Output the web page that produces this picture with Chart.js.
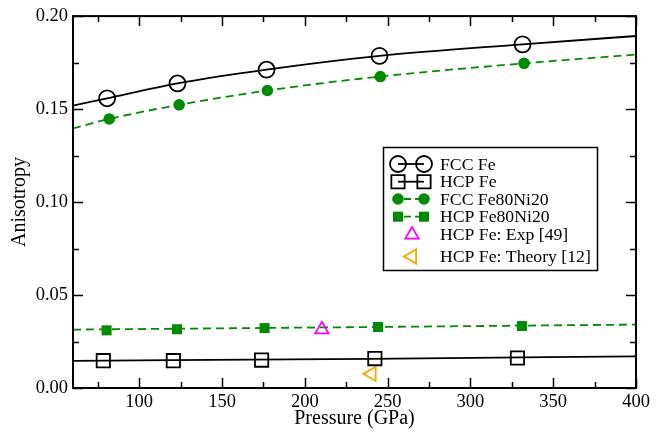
<!DOCTYPE html>
<html><head><meta charset="utf-8">
<script src="https://cdn.jsdelivr.net/npm/chart.js@4/dist/chart.umd.min.js"></script>
<style>html,body{margin:0;padding:0;background:#fff}</style>
</head><body>
<canvas id="c" width="665" height="433"></canvas>
<script>
// ---- data ----
const fccFePressure = [80.6, 123.1, 176.9, 245.1, 331.5];
const fccFeAniso    = [0.1558, 0.1638, 0.1712, 0.1786, 0.1848];
const fccFeFitP     = [60, 80.6, 123.1, 176.9, 245.1, 331.5, 400];
const fccFeFitA     = [0.1518, 0.1558, 0.1638, 0.1712, 0.1786, 0.1848, 0.1893];

const hcpFePressure = [78.3, 120.6, 173.9, 242.3, 328.4];
const hcpFeAniso    = [0.0147, 0.0147, 0.0150, 0.0158, 0.0161];
const hcpFeFitP     = [60, 240, 400];
const hcpFeFitA     = [0.0146, 0.0157, 0.0170];

const fccNiPressure = [81.9, 124.1, 177.4, 245.6, 332.4];
const fccNiAniso    = [0.1447, 0.1523, 0.1600, 0.1675, 0.1746];
const fccNiFitP     = [60, 81.9, 124.1, 177.4, 245.6, 332.4, 400];
const fccNiFitA     = [0.1396, 0.1447, 0.1523, 0.1600, 0.1675, 0.1746, 0.1793];

const hcpNiPressure = [80.3, 122.8, 175.7, 244.2, 331.1];
const hcpNiAniso    = [0.0310, 0.0316, 0.0322, 0.0328, 0.0333];
const hcpNiFitP     = [60, 240, 400];
const hcpNiFitA     = [0.0314, 0.0328, 0.0341];

const expPressure    = [210.3];
const expAniso       = [0.0315];
const theoryPressure = [240.3];
const theoryAniso    = [0.0076];

const seriesLabels = ['FCC Fe', 'HCP Fe', 'FCC Fe80Ni20', 'HCP Fe80Ni20', 'HCP Fe: Exp [49]', 'HCP Fe: Theory [12]'];

const xMajorTicks = [100, 150, 200, 250, 300, 350, 400];
const xMinorTicks = [75, 125, 175, 225, 275, 325, 375];
const yMajorTicks = [0, 0.05, 0.10, 0.15, 0.20];
const yMinorTicks = [0.025, 0.075, 0.125, 0.175];

// ---- styles ----
const GREEN = '#008b00';
const FONT = "'Liberation Serif', 'Times New Roman', serif";
function pts(xs, ys) { return xs.map((x, i) => ({x: x, y: ys[i]})); }

const lineDs = (label, xs, ys, color, dash) => ({
  label: label, data: pts(xs, ys), showLine: true, pointRadius: 0, pointHoverRadius: 0,
  borderColor: color, borderWidth: 1.8, borderDash: dash, cubicInterpolationMode: 'monotone',
  fill: false, order: 2
});
const markDs = (label, xs, ys, style, radius, border, fill, bw, rot) => ({
  label: label, data: pts(xs, ys), showLine: false, pointStyle: style, pointRadius: radius,
  pointHoverRadius: radius, pointBorderColor: border, pointBackgroundColor: fill,
  pointBorderWidth: bw, pointRotation: rot || 0, order: 1
});

const datasets = [
  lineDs(seriesLabels[0], fccFeFitP, fccFeFitA, '#000', []),                       //0
  markDs(seriesLabels[0], fccFePressure, fccFeAniso, 'circle', 8, '#000', 'rgba(0,0,0,0)', 1.8), //1
  lineDs(seriesLabels[1], hcpFeFitP, hcpFeFitA, '#000', []),                       //2
  markDs(seriesLabels[1], hcpFePressure, hcpFeAniso, 'rect', 9.4, '#000', 'rgba(0,0,0,0)', 1.8), //3
  lineDs(seriesLabels[2], fccNiFitP, fccNiFitA, GREEN, [8, 5]),                    //4
  markDs(seriesLabels[2], fccNiPressure, fccNiAniso, 'circle', 5.8, GREEN, GREEN, 0), //5
  lineDs(seriesLabels[3], hcpNiFitP, hcpNiFitA, GREEN, [8, 5]),                    //6
  markDs(seriesLabels[3], hcpNiPressure, hcpNiAniso, 'rect', 7.1, GREEN, GREEN, 0),  //7
  markDs(seriesLabels[4], expPressure, expAniso, 'triangle', 7.7, '#ff00ff', 'rgba(0,0,0,0)', 1.8), //8
  markDs(seriesLabels[5], theoryPressure, theoryAniso, 'triangle', 8.2, '#ffa500', 'rgba(0,0,0,0)', 1.8, -90) //9
];
const legendRows = [
  {line: 0, mark: 1}, {line: 2, mark: 3}, {line: 4, mark: 5}, {line: 6, mark: 7},
  {line: null, mark: 8}, {line: null, mark: 9}
];

const framePlugin = {
  id: 'frame',
  afterDatasetsDraw(chart) {
    const {ctx, chartArea: a, scales: {x, y}} = chart;
    ctx.save();
    ctx.strokeStyle = '#000';
    ctx.lineWidth = 1.5;
    ctx.beginPath();
    const tx = (v, len) => { const p = Math.round(x.getPixelForValue(v)) + 0.5;
      ctx.moveTo(p, a.bottom); ctx.lineTo(p, a.bottom - len);
      ctx.moveTo(p, a.top); ctx.lineTo(p, a.top + len); };
    const ty = (v, len) => { const p = Math.round(y.getPixelForValue(v)) + 0.5;
      ctx.moveTo(a.left, p); ctx.lineTo(a.left + len, p);
      ctx.moveTo(a.right, p); ctx.lineTo(a.right - len, p); };
    xMajorTicks.forEach(v => tx(v, 10));
    xMinorTicks.forEach(v => tx(v, 6));
    yMajorTicks.forEach(v => ty(v, 10));
    yMinorTicks.forEach(v => ty(v, 6));
    ctx.stroke();
    ctx.lineWidth = 2;
    ctx.strokeRect(a.left, a.top, a.right - a.left, a.bottom - a.top);
    ctx.restore();
  }
};

function drawMarker(ctx, ds, px, py) {
  const r = ds.pointRadius, rot = (ds.pointRotation || 0) * Math.PI / 180;
  ctx.save();
  ctx.beginPath();
  if (ds.pointStyle === 'circle') {
    ctx.arc(px, py, r, 0, Math.PI * 2);
  } else if (ds.pointStyle === 'rect') {
    const s = r * Math.SQRT1_2; ctx.rect(px - s, py - s, 2 * s, 2 * s);
  } else if (ds.pointStyle === 'triangle') {
    let ang = rot;
    ctx.moveTo(px + Math.sin(ang) * r, py - Math.cos(ang) * r);
    ang += 2 * Math.PI / 3; ctx.lineTo(px + Math.sin(ang) * r, py - Math.cos(ang) * r);
    ang += 2 * Math.PI / 3; ctx.lineTo(px + Math.sin(ang) * r, py - Math.cos(ang) * r);
    ctx.closePath();
  }
  ctx.fillStyle = ds.pointBackgroundColor; ctx.fill();
  if (ds.pointBorderWidth > 0) { ctx.lineWidth = ds.pointBorderWidth; ctx.strokeStyle = ds.pointBorderColor; ctx.stroke(); }
  ctx.restore();
}

const legendPlugin = {
  id: 'xyLegend',
  afterDraw(chart) {
    const ctx = chart.ctx;
    const box = {x: 383, y: 147, w: 214, h: 123};
    const rowsY = [164, 181.7, 199, 216.7, 234.8, 256.5];
    ctx.save();
    ctx.fillStyle = '#fff';
    ctx.fillRect(box.x, box.y, box.w, box.h);
    ctx.strokeStyle = '#000'; ctx.lineWidth = 1.5;
    ctx.strokeRect(box.x + 0.5, box.y + 0.5, box.w, box.h);
    legendRows.forEach((row, i) => {
      const yy = rowsY[i];
      const mds = chart.data.datasets[row.mark];
      if (row.line !== null) {
        const lds = chart.data.datasets[row.line];
        ctx.save();
        ctx.strokeStyle = lds.borderColor; ctx.lineWidth = lds.borderWidth;
        ctx.setLineDash(lds.borderDash && lds.borderDash.length ? [7, 4] : []);
        ctx.lineDashOffset = lds.borderDash && lds.borderDash.length ? -6 : 0;
        ctx.beginPath(); ctx.moveTo(398, yy); ctx.lineTo(424, yy); ctx.stroke();
        ctx.restore();
        drawMarker(ctx, mds, 398, yy);
        drawMarker(ctx, mds, 424, yy);
      } else {
        drawMarker(ctx, mds, 412, yy);
      }
      ctx.fillStyle = '#000';
      ctx.font = '17.7px ' + FONT;
      ctx.textBaseline = 'middle'; ctx.textAlign = 'left';
      ctx.fillText(mds.label, 440, yy + 1);
    });
    ctx.restore();
  }
};

new Chart(document.getElementById('c'), {
  type: 'scatter',
  data: {datasets: datasets},
  options: {
    responsive: false, animation: false, events: [],
    layout: {padding: {left: 0, top: 14, right: 29, bottom: 0}},
    plugins: {legend: {display: false}, tooltip: {enabled: false}},
    scales: {
      x: {
        type: 'linear', min: 60, max: 400,
        grid: {display: false, drawTicks: false}, border: {display: false},
        afterBuildTicks: s => { s.ticks = xMajorTicks.map(v => ({value: v})); },
        afterFit: s => { s.height = 45; },
        ticks: {color: '#000', padding: 3, font: {family: FONT, size: 18.5}, callback: v => String(v)},
        title: {display: true, text: 'Pressure (GPa)', color: '#000', font: {family: FONT, size: 20}, padding: {top: 0, bottom: 2}}
      },
      y: {
        type: 'linear', min: 0, max: 0.2,
        grid: {display: false, drawTicks: false}, border: {display: false},
        afterBuildTicks: s => { s.ticks = yMajorTicks.map(v => ({value: v})); },
        afterFit: s => { s.width = 73; },
        ticks: {color: '#000', padding: 5, font: {family: FONT, size: 18.5}, callback: v => Number(v).toFixed(2)},
        title: {display: true, text: 'Anisotropy', color: '#000', font: {family: FONT, size: 20}, padding: {top: 8, bottom: 0}}
      }
    }
  },
  plugins: [framePlugin, legendPlugin]
});
</script>
</body></html>
